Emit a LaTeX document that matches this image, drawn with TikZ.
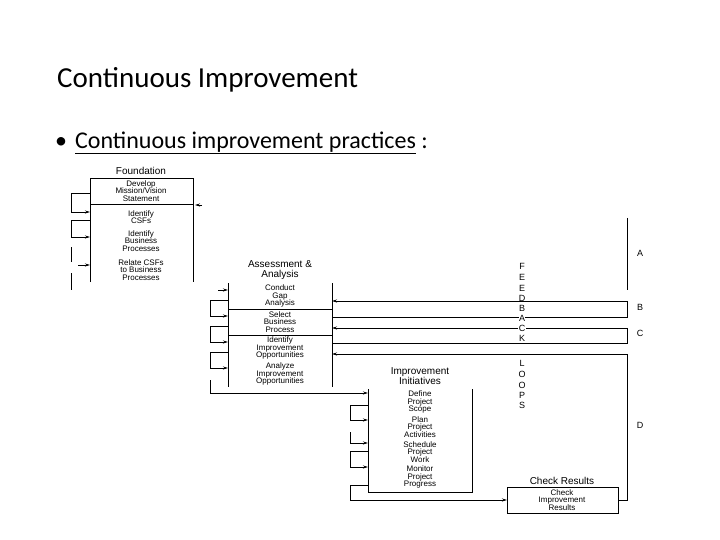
\documentclass[tikz,border=0pt]{standalone}
\usepackage{fontspec}
\setmainfont{Carlito}
\newfontfamily\dia{Liberation Sans}
\usetikzlibrary{arrows.meta}
\begin{document}
\begin{tikzpicture}[x=1pt,y=-1pt,
  ln/.style={line width=0.8pt,black},
  ar/.style={ln,-{Stealth[length=5pt,width=3pt]}},
  bx/.style={ln},
  tx/.style={font=\dia\fontsize{8}{7.6}\selectfont,align=center,inner sep=0pt},
  hd/.style={font=\dia\fontsize{10}{10}\selectfont,align=center,inner sep=0pt},
  fb/.style={font=\dia\fontsize{9}{9}\selectfont,inner sep=0pt}]
\useasboundingbox (0,0) rectangle (720,540);
\node[anchor=west,font=\fontsize{29}{30}\selectfont,inner sep=0pt] (title) at (57,80) {Continuous Improvement};
\node[anchor=west,font=\fontsize{24}{26}\selectfont,inner sep=0pt] (bul) at (55,143) {•\hspace{8pt}\underline{Continuous improvement practices} :};
% Foundation
\node[hd] (fl) at (141,171) {Foundation};
\draw[bx] (90,282) -- (90,178) -- (193,178) -- (193,282);
\draw[bx] (90,204) -- (193,204);
\node[tx] (f1) at (141,191) {Develop\\Mission/Vision\\Statement};
\node[tx] (f2) at (141,217) {Identify\\CSFs};
\node[tx] (f3) at (141,241) {Identify\\Business\\Processes};
\node[tx] (f4) at (141,270) {Relate CSFs\\to Business\\Processes};
\draw[ln] (90,193) -- (71,193) -- (71,212); \draw[ar] (71,212) -- (90,212);
\draw[ln] (90,220) -- (71,220) -- (71,237); \draw[ar] (71,237) -- (90,237);
\draw[ln] (71,247) -- (71,262); \draw[ar] (78,265) -- (90,265);
\draw[ln] (71,273) -- (71,290);
\draw[ar] (202,205) -- (195,205);
% Assessment
\node[hd] (al) at (280,270) {Assessment \&\\Analysis};
\draw[bx] (228,283) -- (228,387); \draw[bx] (332,283) -- (332,387);
\draw[bx] (228,309) -- (332,309); \draw[bx] (228,335) -- (332,335);
\node[tx] (a1) at (280,296) {Conduct\\Gap\\Analysis};
\node[tx] (a2) at (280,322) {Select\\Business\\Process};
\node[tx] (a3) at (280,348) {Identify\\Improvement\\Opportunities};
\node[tx] (a4) at (280,374) {Analyze\\Improvement\\Opportunities};
\draw[ar] (218,290) -- (228,290);
\draw[ln] (228,300) -- (210,300) -- (210,316); \draw[ar] (210,316) -- (228,316);
\draw[ln] (228,326) -- (210,326) -- (210,342); \draw[ar] (210,342) -- (228,342);
\draw[ln] (228,352) -- (210,352) -- (210,368); \draw[ar] (210,368) -- (228,368);
\draw[ln] (210,380) -- (210,393); \draw[ar] (210,393) -- (368,393);
% Improvement
\node[hd] (il) at (420,376) {Improvement\\Initiatives};
\draw[bx] (368,389) -- (368,492) -- (472,492) -- (472,389);
\node[tx] (i1) at (420,402) {Define\\Project\\Scope};
\node[tx] (i2) at (420,427) {Plan\\Project\\Activities};
\node[tx] (i3) at (420,452) {Schedule\\Project\\Work};
\node[tx] (i4) at (420,477) {Monitor\\Project\\Progress};
\draw[ln] (368,405) -- (350,405) -- (350,420); \draw[ar] (350,420) -- (368,420);
\draw[ln] (350,432) -- (350,443); \draw[ar] (350,443) -- (368,443);
\draw[ln] (368,451) -- (350,451) -- (350,467); \draw[ar] (350,467) -- (368,467);
\draw[ln] (368,485) -- (350,485) -- (350,500); \draw[ar] (350,500) -- (507,500);
% Check
\node[hd] (cl) at (562,481) {Check Results};
\draw[bx] (507,487) rectangle (618,513);
\node[tx] (c1) at (562,500) {Check\\Improvement\\Results};
% Feedback loops
\draw[ln] (627,218) -- (627,290);
\draw[ar] (627,301) -- (332,301); \draw[ln] (332,317) -- (627,317) -- (627,301);
\draw[ar] (627,328) -- (332,328); \draw[ln] (332,343) -- (627,343) -- (627,328);
\draw[ar] (627,354) -- (332,354); \draw[ln] (627,354) -- (627,500) -- (618,500);
\node[fb] (A) at (640,253) {A};
\node[fb] (B) at (640,307) {B};
\node[fb] (C) at (640,333) {C};
\node[fb] (D) at (640,425) {D};
\foreach \l/\y in {F/266,E/277,E/288,D/298,B/308,A/318,C/328,K/338,L/363,O/374,O/385,P/395,S/405}
  \node[fb,fill=white,inner sep=0.3pt] at (522,\y) {\l};
\end{tikzpicture}
\end{document}
